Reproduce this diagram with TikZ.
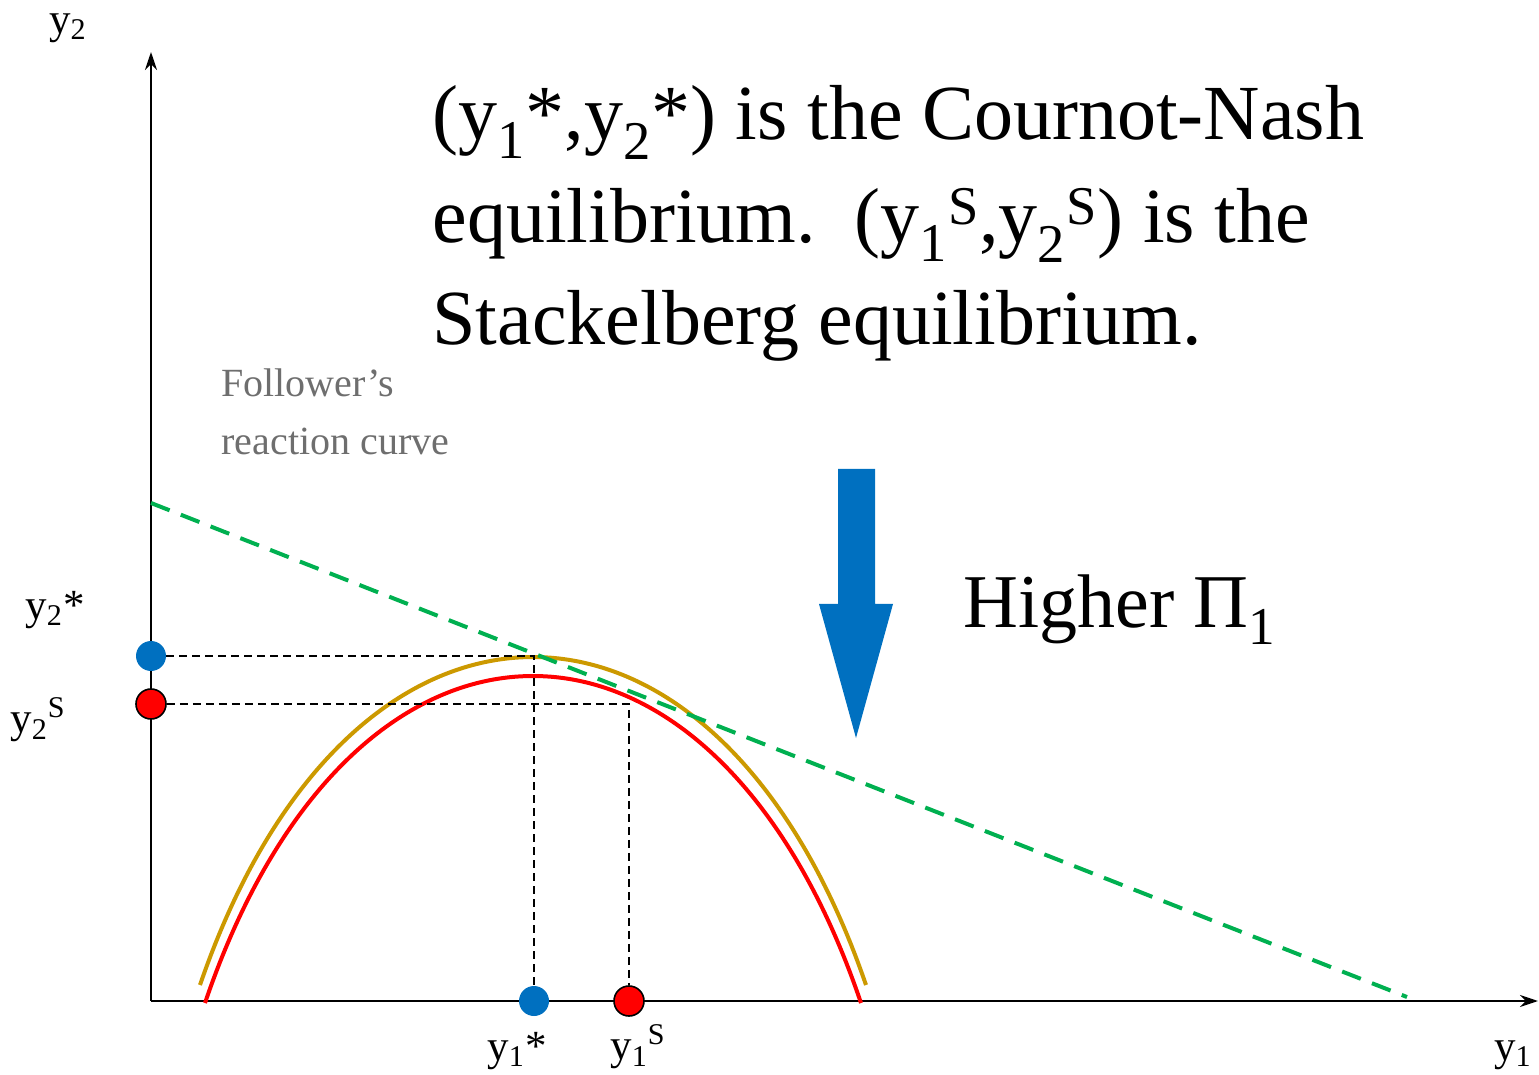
\documentclass[tikz,border=0pt]{standalone}
\usepackage{fontspec}
\setmainfont{Liberation Serif}
\usetikzlibrary{arrows.meta}
\definecolor{nashblue}{RGB}{0,112,192}
\definecolor{stackred}{RGB}{255,0,0}
\definecolor{isogold}{RGB}{204,153,0}
\definecolor{reactgreen}{RGB}{0,176,80}
\definecolor{notegray}{RGB}{110,110,110}
\pgfdeclarelayer{bg}
\pgfsetlayers{bg,main}
\begin{document}
\begin{tikzpicture}[x=0.5pt,y=-0.5pt,
  axis/.style={line width=1.25pt,-{Stealth[length=9pt,width=6pt]}},
  reaction/.style={reactgreen,line width=2pt,dash pattern=on 10pt off 6pt},
  guide/.style={black,line width=0.8pt,dash pattern=on 4pt off 2.5pt},
  iso/.style={line width=2pt},
  dotbase/.style={circle,inner sep=0pt,minimum size=15pt},
  bluedot/.style={dotbase,fill=nashblue},
  reddot/.style={dotbase,fill=stackred,draw=black,line width=0.8pt},
  axlabel/.style={font=\fontsize{21.5}{26}\selectfont,inner sep=0pt},
  bigtext/.style={font=\fontsize{39}{51}\selectfont,anchor=base west,inner sep=0pt},
  note/.style={font=\fontsize{20}{24}\selectfont,text=notegray,anchor=base west,inner sep=0pt}]
\useasboundingbox (0,0) rectangle (1539,1075);
% dots
\node[bluedot] (ys2) at (151,656) {};
\node[reddot] (ss2) at (151,704) {};
\node[bluedot] (ys1) at (534,1001) {};
\node[reddot] (ss1) at (629,1001) {};
\begin{pgfonlayer}{bg}
\coordinate (O) at (151,1001);
\coordinate (ytip) at (151,52);
\coordinate (xtip) at (1538,1001);
\draw[axis] (O) -- (ytip);
\draw[axis] (O) -- (xtip);
% iso-profit curves
\draw[iso,isogold] (200,985) .. controls (350,547.7) and (716,547.7) .. (866,985);
\draw[iso,stackred] (205,1003) .. controls (353,567) and (713,567) .. (861,1003);
% reaction curve
\coordinate (g1) at (151,503);
\coordinate (g2) at (1407,997);
\draw[reaction] (g1) -- (g2);
% guides
\coordinate (nash) at (534,656);
\coordinate (stack) at (629,704);
\draw[guide] (ys2) -- (nash) -- (ys1);
\draw[guide] (ss2) -- (stack) -- (ss1);
\end{pgfonlayer}
% big arrow
\fill[nashblue] (838,469) -- (875,469) -- (875,604) -- (893,604) -- (856,738) -- (819,604) -- (838,604) -- cycle;
% axis labels
\node[axlabel] (ly2) at (68,28) {y\textsubscript{2}};
\node[axlabel] (ly1) at (1513,1055) {y\textsubscript{1}};
\node[axlabel] (lys2) at (55,610) {y\textsubscript{2}*};
\node[axlabel] (lss2) at (38,720) {y\textsubscript{2}\textsuperscript{S}};
\node[axlabel] (lys1) at (517,1051) {y\textsubscript{1}*};
\node[axlabel] (lss1) at (638,1047) {y\textsubscript{1}\textsuperscript{S}};
% texts
\node[bigtext] (t1) at (432,140) {(y\textsubscript{1}*,y\textsubscript{2}*) is the Cournot-Nash};
\node[bigtext] (t2) at (432,243) {equilibrium.\ \ (y\textsubscript{1}\textsuperscript{S},y\textsubscript{2}\textsuperscript{S}) is the};
\node[bigtext] (t3) at (432,345) {Stackelberg equilibrium.};
\node[bigtext,font=\fontsize{38}{46}\selectfont] (hp) at (963,627) {Higher Π\textsubscript{1}};
\node[note] (f1) at (221,397) {Follower’s};
\node[note] (f2) at (221,455) {reaction curve};
\end{tikzpicture}
\end{document}
